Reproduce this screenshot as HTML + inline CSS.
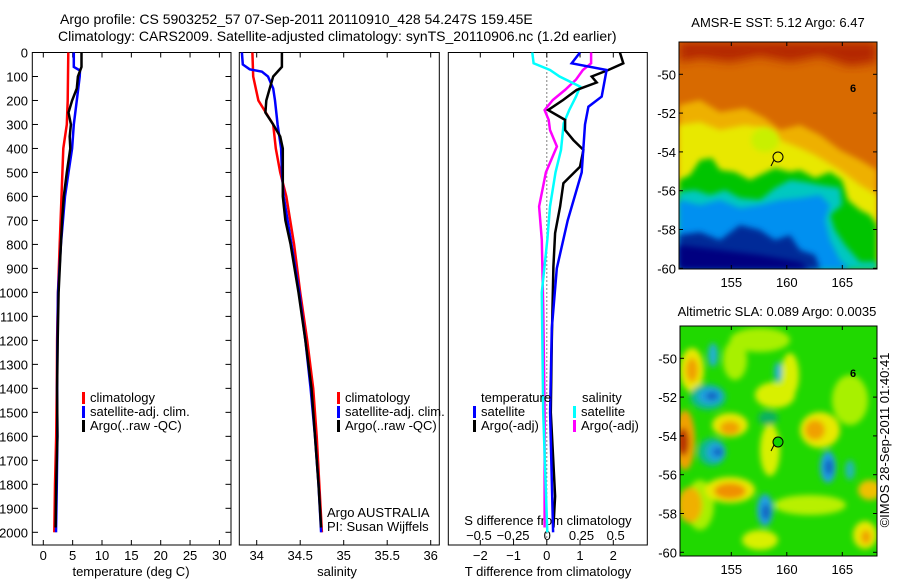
<!DOCTYPE html>
<html><head><meta charset="utf-8">
<style>
html,body{margin:0;padding:0;background:#fff;}
svg{display:block;font-family:"Liberation Sans",sans-serif;}
text{font-size:13px;fill:#000;}
</style></head>
<body>
<svg id="fig" width="900" height="580" viewBox="0 0 900 580" xmlns="http://www.w3.org/2000/svg">
<defs>
<filter id="blur3" x="-20%" y="-20%" width="140%" height="140%"><feGaussianBlur stdDeviation="3"/></filter>
<filter id="blur5" x="-30%" y="-30%" width="160%" height="160%"><feGaussianBlur stdDeviation="5"/></filter>
<clipPath id="clipMap1"><rect x="679" y="42" width="198" height="227"/></clipPath>
<clipPath id="clipMap2"><rect x="680" y="326" width="197" height="230"/></clipPath>
</defs>
<text x="60" y="24" style="font-size:14px">Argo profile: CS 5903252_57 07-Sep-2011 20110910_428 54.247S 159.45E</text>
<text x="58" y="41" style="font-size:14px">Climatology: CARS2009. Satellite-adjusted climatology: synTS_20110906.nc (1.2d earlier)</text>

<g id="p1"></g>
<g id="p2"></g>
<g id="p3"></g>

<!-- Map 1: SST -->
<g>
 <g clip-path="url(#clipMap1)">
  <rect x="679" y="42" width="198" height="227" fill="#d86a00"/>
  <path d="M679,42 H877 V62 L850,66 L820,56 L790,62 L760,56 L730,62 L700,58 L679,62 Z" fill="#b42800" filter="url(#blur5)"/>
  <path d="M679,105 L700,100 L720,112 L745,108 L765,118 L780,130 L800,125 L820,135 L840,150 L860,160 L877,170 V269 H679 Z" fill="#eeb000" filter="url(#blur3)"/>
  <path d="M679,125 L700,122 L720,130 L745,125 L765,128 L780,140 L800,148 L815,155 L840,170 L860,185 L877,195 V269 H679 Z" fill="#e8e800" filter="url(#blur3)"/>
  <path d="M679,180 L690,175 L700,160 L712,158 L720,170 L735,172 L750,180 L760,175 L775,168 L790,172 L800,170 L815,178 L830,172 L842,180 L848,200 L860,210 L870,215 L877,225 V269 H679 Z" fill="#00c400" filter="url(#blur3)"/>
  <path d="M679,192 L695,190 L710,195 L725,190 L740,198 L760,200 L775,188 L790,180 L805,182 L820,185 L840,188 L842,205 L830,215 L835,230 L845,245 L860,262 L877,262 V269 H679 Z" fill="#00c8c0" filter="url(#blur3)"/>
  <path d="M679,200 L700,205 L720,200 L740,208 L760,205 L780,200 L800,198 L820,195 L830,205 L825,220 L830,240 L840,260 L850,269 H679 Z" fill="#0090f0" filter="url(#blur3)"/>
  <path d="M679,235 L700,232 L720,240 L740,225 L760,230 L775,240 L790,235 L800,250 L815,255 L820,269 H679 Z" fill="#002c98" filter="url(#blur3)"/>
  <path d="M679,245 L720,250 L760,255 L800,262 L810,269 H679 Z" fill="#000080" filter="url(#blur3)"/>
  <ellipse cx="765" cy="140" rx="14" ry="12" fill="#c8f000" filter="url(#blur3)"/>
 </g>
 <rect x="679" y="42" width="198" height="227" fill="none" stroke="#000" stroke-width="1"/>
 <circle cx="778" cy="157" r="5" fill="#e8e800" stroke="#000" stroke-width="1"/>
 <path d="M774,160 L771,166" stroke="#000" stroke-width="1"/>
 <text x="850" y="92" style="font-size:11px;font-weight:bold">6</text>
 <text x="778" y="27" text-anchor="middle">AMSR-E SST: 5.12 Argo: 6.47</text>
 <g id="m1ticks"></g>
</g>

<!-- Map 2: SLA -->
<g>
 <g clip-path="url(#clipMap2)">
  <rect x="680" y="326" width="197" height="230" fill="#20d800"/>
  <g filter="url(#blur3)">
   <ellipse cx="760" cy="340" rx="30" ry="12" fill="#a8f000"/>
   <ellipse cx="850" cy="400" rx="18" ry="25" fill="#a8f000"/>
   <ellipse cx="700" cy="505" rx="14" ry="25" fill="#a8f000"/>
   <ellipse cx="692" cy="370" rx="12" ry="22" fill="#e8e800"/>
   <ellipse cx="692" cy="370" rx="6" ry="12" fill="#f0a000"/>
   <ellipse cx="735" cy="360" rx="12" ry="20" fill="#a8f000"/>
   <ellipse cx="775" cy="395" rx="20" ry="13" fill="#d8f000"/>
   <ellipse cx="790" cy="375" rx="9" ry="22" fill="#d8f000"/>
   <ellipse cx="730" cy="425" rx="18" ry="12" fill="#e8e800"/>
   <ellipse cx="730" cy="428" rx="10" ry="7" fill="#f0a000"/>
   <ellipse cx="685" cy="440" rx="10" ry="30" fill="#f0a000"/>
   <ellipse cx="683" cy="442" rx="6" ry="14" fill="#b83000"/>
   <ellipse cx="730" cy="490" rx="25" ry="13" fill="#e8e800"/>
   <ellipse cx="730" cy="491" rx="16" ry="8" fill="#f09000"/>
   <ellipse cx="820" cy="430" rx="20" ry="18" fill="#e8e800"/>
   <ellipse cx="815" cy="430" rx="10" ry="10" fill="#f0a000"/>
   <ellipse cx="690" cy="505" rx="12" ry="18" fill="#f0b000"/>
   <ellipse cx="810" cy="505" rx="36" ry="10" fill="#b8f000"/>
   <ellipse cx="870" cy="490" rx="12" ry="10" fill="#f0c000"/>
   <ellipse cx="865" cy="535" rx="12" ry="14" fill="#e8e800"/>
   <ellipse cx="866" cy="537" rx="5" ry="7" fill="#f0a000"/>
   <ellipse cx="770" cy="450" rx="10" ry="26" fill="#d8f000"/>
   <ellipse cx="760" cy="540" rx="18" ry="10" fill="#d8f000"/>
   <ellipse cx="708" cy="397" rx="18" ry="13" fill="#10b890"/>
   <ellipse cx="710" cy="396" rx="12" ry="8" fill="#20a0e0"/>
   <ellipse cx="712" cy="396" rx="6" ry="4" fill="#1060c0"/>
   <ellipse cx="712" cy="452" rx="14" ry="14" fill="#10b890"/>
   <ellipse cx="716" cy="452" rx="9" ry="9" fill="#20a0e0"/>
   <ellipse cx="718" cy="452" rx="5" ry="4" fill="#1060c0"/>
   <ellipse cx="713" cy="355" rx="5" ry="12" fill="#20b0d0"/>
   <ellipse cx="778" cy="372" rx="4" ry="10" fill="#20b0d0"/>
   <ellipse cx="765" cy="510" rx="8" ry="16" fill="#20a0e0"/>
   <ellipse cx="766" cy="512" rx="4" ry="8" fill="#1060c0"/>
   <ellipse cx="828" cy="467" rx="8" ry="16" fill="#20a0e0"/>
   <ellipse cx="829" cy="467" rx="4" ry="8" fill="#1060c0"/>
   <ellipse cx="850" cy="470" rx="5" ry="10" fill="#20b8b0"/>
   <ellipse cx="768" cy="418" rx="10" ry="7" fill="#10b060"/>
  </g>
 </g>
 <rect x="680" y="326" width="197" height="230" fill="none" stroke="#000" stroke-width="1"/>
 <circle cx="778" cy="442" r="5" fill="#10d400" stroke="#000" stroke-width="1"/>
 <path d="M774,445 L771,451" stroke="#000" stroke-width="1"/>
 <text x="850" y="377" style="font-size:11px;font-weight:bold">6</text>
 <text x="777" y="316" text-anchor="middle">Altimetric SLA: 0.089 Argo: 0.0035</text>
 <g id="m2ticks"></g>
</g>
<text transform="translate(889,440) rotate(-90)" text-anchor="middle">©IMOS 28-Sep-2011 01:40:41</text>
</svg>
<script>
// ---------- data ----------
const depthTicks = [0,100,200,300,400,500,600,700,800,900,1000,1100,1200,1300,1400,1500,1600,1700,1800,1900,2000];
const tempTicks = [0,5,10,15,20,25,30];
const salTicks = [34,34.5,35,35.5,36];
const tdiffTicks = [-2,-1,0,1,2];
const sdiffTicks = [-0.5,-0.25,0,0.25,0.5];
const sdiffLabels = ["−0.5","−0.25","0","0.25","0.5"];
const tdiffLabels = ["−2","−1","0","1","2"];

const climDepth = [0,100,200,300,400,500,600,800,1000,1200,1400,1600,1800,2000];
const climTemp  = [4.26,4.2,4.15,4.0,3.4,3.25,3.1,2.8,2.5,2.35,2.3,2.2,2.0,1.87];
const climSal   = [33.95,33.96,34.02,34.19,34.22,34.27,34.34,34.43,34.5,34.58,34.65,34.69,34.72,34.75];

const satDepth = [0,60,75,100,200,300,400,500,600,800,1000,1200,1400,1600,1800,2000];
const satTemp  = [5.2,5.2,6.25,6.2,5.7,5.2,4.9,4.3,3.7,3.0,2.5,2.4,2.35,2.4,2.3,2.16];
const satSalDepth = [0,50,70,80,100,150,200,300,400,500,600,800,1000,1200,1400,1600,1800,2000];
const satSal   = [33.83,33.84,33.92,34.06,34.13,34.19,34.21,34.24,34.28,34.29,34.31,34.4,34.49,34.56,34.62,34.67,34.71,34.74];

const argoDepth = [0,60,100,150,200,250,300,350,400,500,600,700,800,1000,1200,1400,1600,1800,1980];
const argoTemp  = [6.5,6.5,5.9,5.7,4.9,4.3,4.7,4.5,4.6,4.0,3.5,3.2,3.0,2.6,2.45,2.35,2.4,2.2,2.1];
const argoSal   = [34.29,34.29,34.19,34.15,34.11,34.1,34.19,34.27,34.3,34.3,34.3,34.33,34.39,34.48,34.56,34.63,34.67,34.71,34.74];

const dTsatDepth = [0,45,73,184,226,300,500,700,900,1150,1500,2000];
const dTsat      = [1.0,0.75,1.8,1.65,1.25,1.15,1.05,0.63,0.3,0.15,0.1,0.19];
const dTargoDepth = [0,45,73,100,125,156,198,240,281,323,365,406,476,545,642,753,893,1200,1500,1850,1980];
const dTargo      = [2.2,2.3,1.85,1.35,1.5,0.9,0.49,0.04,0.55,0.55,0.8,1.1,1.0,0.5,0.4,0.25,0.2,0.15,0.12,0.25,0.2];
const dSsatDepth = [0,45,73,100,142,184,240,295,406,500,642,781,1000,1500,2000];
const dSsat      = [-0.11,-0.1,0.02,0.09,0.24,0.21,0.16,0.12,0.1,0.06,0.02,0.0,-0.04,-0.03,0.0];
const dSargoDepth = [0,45,73,113,156,198,240,281,323,392,500,642,781,1060,1500,1980];
const dSargo      = [0.32,0.32,0.26,0.21,0.13,0.04,-0.02,0.01,0.02,0.07,-0.01,-0.06,-0.04,-0.03,-0.02,-0.02];

const mapLatTicks = [-50,-52,-54,-56,-58,-60];
const mapLonTicks = [155,160,165];

// ---------- axes ----------
const Y0=52.5, YS=0.2399;
const yD = d => Y0 + d*YS;
const xT = t => 43.3 + t*5.87;
const xS = s => 256.7 + (s-34)*87;
const xDT = t => 546.8 + t*33.25;
const xDS = s => 547.3 + s*136.8;
const PTOP=52.5, PBOT=545;
const NS="http://www.w3.org/2000/svg";
function mk(tag, attrs, parent, txt){
  const e=document.createElementNS(NS,tag);
  for(const k in attrs) e.setAttribute(k,attrs[k]);
  if(txt!==undefined) e.textContent=txt;
  parent.appendChild(e); return e;
}
function line(p, x1,y1,x2,y2, w){ return mk('line',{x1:x1,y1:y1,x2:x2,y2:y2,stroke:'#000','stroke-width':w||1},p); }
function series(p, xs, ds, fx, color, w, name){
  const pts = xs.map((v,i)=>fx(v).toFixed(1)+','+yD(ds[i]).toFixed(1)).join(' ');
  const e=mk('polyline',{points:pts,fill:'none',stroke:color,'stroke-width':w,'stroke-linejoin':'miter'},p);
  
  
}
function legendRow(p, x, y, color, label, name){
  mk('rect',{x:x,y:y-10,width:3,height:12,fill:color},p);
  const t=mk('text',{x:x+8,y:y},p,label);
  
  
}

// Panel 1
const p1=document.getElementById('p1');
mk('rect',{x:32.3,y:PTOP,width:198.7,height:PBOT-PTOP,fill:'none',stroke:'#000','stroke-width':1},p1);
depthTicks.forEach(d=>{
  line(p1,32.3,yD(d),38,yD(d)); line(p1,231,yD(d),225.5,yD(d));
  const t=mk('text',{x:28,y:yD(d)+5,'text-anchor':'end'},p1,String(d));
  
  
});
tempTicks.forEach(v=>{
  line(p1,xT(v),PBOT,xT(v),PBOT-5); line(p1,xT(v),PTOP,xT(v),PTOP+5);
  const t=mk('text',{x:xT(v),y:PBOT+15,'text-anchor':'middle'},p1,String(v));
  
  
});
mk('text',{x:131,y:576,'text-anchor':'middle'},p1,'temperature (deg C)');
series(p1, climTemp, climDepth, xT, '#ff0000', 2.5, 'climatology-temperature-line');
series(p1, satTemp, satDepth, xT, '#0000ff', 2.5, 'satellite-temperature-line');
series(p1, argoTemp, argoDepth, xT, '#000000', 2.5, 'argo-temperature-line');
legendRow(p1,82,402,'#ff0000','climatology','legend-climatology');
legendRow(p1,82,416,'#0000ff','satellite-adj. clim.','legend-satellite');
legendRow(p1,82,430,'#000000','Argo(..raw -QC)','legend-argo');

// Panel 2
const p2=document.getElementById('p2');
mk('rect',{x:239.3,y:PTOP,width:200,height:PBOT-PTOP,fill:'none',stroke:'#000','stroke-width':1},p2);
salTicks.forEach(v=>{
  line(p2,xS(v),PBOT,xS(v),PBOT-5); line(p2,xS(v),PTOP,xS(v),PTOP+5);
  const t=mk('text',{x:xS(v),y:PBOT+15,'text-anchor':'middle'},p2,String(v));
  
  
});
mk('text',{x:337,y:576,'text-anchor':'middle'},p2,'salinity');
series(p2, climSal, climDepth, xS, '#ff0000', 2.5, 'climatology-salinity-line');
series(p2, satSal, satSalDepth, xS, '#0000ff', 2.5, 'satellite-salinity-line');
series(p2, argoSal, argoDepth, xS, '#000000', 2.5, 'argo-salinity-line');
legendRow(p2,337,402,'#ff0000','climatology','legend-climatology-2');
legendRow(p2,337,416,'#0000ff','satellite-adj. clim.','legend-satellite-2');
legendRow(p2,337,430,'#000000','Argo(..raw -QC)','legend-argo-2');
mk('text',{x:327,y:517},p2,'Argo AUSTRALIA');
mk('text',{x:327,y:531},p2,'PI: Susan Wijffels');

// Panel 3
const p3=document.getElementById('p3');
mk('rect',{x:448.3,y:PTOP,width:199,height:PBOT-PTOP,fill:'none',stroke:'#000','stroke-width':1},p3);
mk('line',{x1:xDT(0),y1:PTOP,x2:xDT(0),y2:PBOT,stroke:'#000','stroke-width':1,'stroke-dasharray':'1,3'},p3);
tdiffTicks.forEach((v,i)=>{
  line(p3,xDT(v),PBOT,xDT(v),PBOT-5); line(p3,xDT(v),PTOP,xDT(v),PTOP+5);
  const t=mk('text',{x:xDT(v),y:PBOT+15,'text-anchor':'middle'},p3,tdiffLabels[i]);
  
  
});
sdiffTicks.forEach((v,i)=>{
  const t=mk('text',{x:xDS(v),y:540,'text-anchor':'middle'},p3,sdiffLabels[i]);
  
  
});
mk('text',{x:548,y:525,'text-anchor':'middle'},p3,'S difference from climatology');
mk('text',{x:548,y:576,'text-anchor':'middle'},p3,'T difference from climatology');
series(p3, dSargo, dSargoDepth, xDS, '#ff00ff', 2.5, 'argo-salinity-diff-line');
series(p3, dSsat, dSsatDepth, xDS, '#00ffff', 2.5, 'satellite-salinity-diff-line');
series(p3, dTargo, dTargoDepth, xDT, '#000000', 2.5, 'argo-temperature-diff-line');
series(p3, dTsat, dTsatDepth, xDT, '#0000ff', 2.5, 'satellite-temperature-diff-line');
mk('text',{x:481,y:402},p3,'temperature');
mk('text',{x:582,y:402},p3,'salinity');
legendRow(p3,473,416,'#0000ff','satellite','legend-temp-satellite');
legendRow(p3,473,430,'#000000','Argo(-adj)','legend-temp-argo');
legendRow(p3,573,416,'#00ffff','satellite','legend-sal-satellite');
legendRow(p3,573,430,'#ff00ff','Argo(-adj)','legend-sal-argo');

// Map ticks
function mapTicks(id, x0, x1, y0, y1, latTop, latRange){
  const g=document.getElementById(id);
  const yl = lat => latTop + (-50-lat)*latRange;
  const xl = lon => 731.3 + (lon-155)*11.1;
  mapLatTicks.forEach(v=>{
    line(g,x0,yl(v),x0+4,yl(v)); line(g,x1,yl(v),x1-4,yl(v));
    const t=mk('text',{x:x0-3,y:yl(v)+5,'text-anchor':'end'},g,String(v));
    
    
  });
  mapLonTicks.forEach(v=>{
    line(g,xl(v),y0,xl(v),y0+4); line(g,xl(v),y1,xl(v),y1-4);
    const t=mk('text',{x:xl(v),y:y1+18,'text-anchor':'middle'},g,String(v));
    
    
  });
}
mapTicks('m1ticks',679,877,42,269,74.3,19.4);
mapTicks('m2ticks',680,877,326,556,358.3,19.4);
</script>
</body></html>
